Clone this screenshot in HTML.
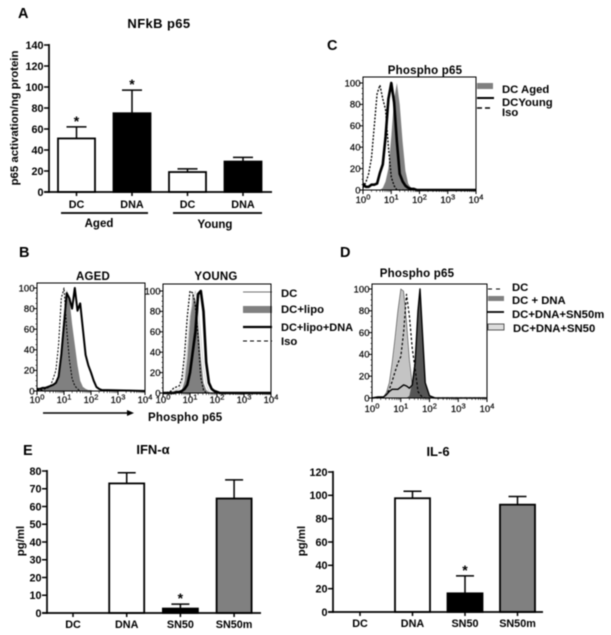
<!DOCTYPE html>
<html lang="en">
<head>
<meta charset="utf-8">
<title>NFkB p65 figure</title>
<style>
html,body{margin:0;padding:0;background:#fff;width:611px;height:635px;overflow:hidden}
svg{display:block;filter:blur(.5px)}
text{font-family:"Liberation Sans",sans-serif;font-weight:bold;fill:#000}
.letter{font-size:14.5px}
.title{font-size:13px}
.ftitle{font-size:11.5px;letter-spacing:.2px}
.leg{font-size:11.3px}
.tick{font-size:10.8px}
.ytitle{font-size:11.4px}
.ftick{font-size:9.5px;font-weight:normal;stroke:#000;stroke-width:.2px}
.fexp{font-size:7.5px;font-weight:normal}
</style>
</head>
<body>
<svg id="figure" width="611" height="635" viewBox="0 0 611 635" xmlns="http://www.w3.org/2000/svg">
  <rect width="611" height="635" fill="#fff"/>

  <text class="letter" x="18" y="18">A</text>
  <text class="letter" x="19" y="257">B</text>
  <text class="letter" x="327" y="50">C</text>
  <text class="letter" x="340" y="257">D</text>
  <text class="letter" x="23" y="455">E</text>

  <text class="title" x="159" y="28" text-anchor="middle" letter-spacing=".4">NFkB p65</text>
  <text class="ytitle" transform="translate(18,118) rotate(-90)" text-anchor="middle">p65 activation/ng protein</text>
  <line x1="61" x2="148" y1="213" y2="213" stroke="#000" stroke-width="1.7"/>
  <line x1="173" x2="262" y1="213" y2="213" stroke="#000" stroke-width="1.7"/>
  <text class="title" style="font-size:11.5px" x="99" y="227" text-anchor="middle">Aged</text>
  <text class="title" style="font-size:11.5px" x="215" y="228" text-anchor="middle">Young</text>

  <text class="ftitle" x="425" y="74" text-anchor="middle">Phospho p65</text>
  <rect x="477" y="83" width="16" height="6" fill="#808080"/>
  <text class="leg" x="502" y="93">DC Aged</text>
  <line x1="477" x2="494" y1="98" y2="98" stroke="#000" stroke-width="2"/>
  <text class="leg" x="502" y="106">DCYoung</text>
  <line x1="477" x2="490" y1="108" y2="108" stroke="#000" stroke-width="1.5" stroke-dasharray="5 3"/>
  <text class="leg" x="502" y="116">Iso</text>

  <text class="ftitle" x="93" y="280" text-anchor="middle">AGED</text>
  <text class="ftitle" x="216" y="280" text-anchor="middle">YOUNG</text>
  <line x1="243" x2="272" y1="292" y2="292" stroke="#444" stroke-width=".8"/>
  <text class="leg" x="281" y="297">DC</text>
  <rect x="243" y="306" width="29" height="7" fill="#808080"/>
  <text class="leg" x="281" y="313">DC+lipo</text>
  <line x1="243" x2="272" y1="327" y2="327" stroke="#000" stroke-width="2.2"/>
  <text class="leg" x="281" y="331" style="font-size:11px">DC+lipo+DNA</text>
  <line x1="243" x2="272" y1="341" y2="341" stroke="#000" stroke-width="1" stroke-dasharray="4 3"/>
  <text class="leg" x="281" y="345">Iso</text>
  <line x1="43" x2="128" y1="413" y2="413" stroke="#000" stroke-width="1.6"/>
  <path d="M134 413L127 410V416Z" fill="#000"/>
  <text class="ftitle" x="148" y="421">Phospho p65</text>

  <text class="ftitle" x="417" y="277" text-anchor="middle">Phospho p65</text>
  <line x1="488" x2="501" y1="289" y2="289" stroke="#000" stroke-width="1" stroke-dasharray="4 4"/>
  <text class="leg" x="512" y="291">DC</text>
  <rect x="488" y="296" width="16" height="5" fill="#808080"/>
  <text class="leg" x="512" y="304">DC + DNA</text>
  <line x1="487" x2="504" y1="312" y2="312" stroke="#000" stroke-width="1.8"/>
  <text class="leg" x="512" y="318">DC+DNA+SN50m</text>
  <rect x="488" y="324" width="16" height="6" fill="#ddd" stroke="#333" stroke-width=".8"/>
  <text class="leg" x="513" y="332">DC+DNA+SN50</text>

  <text class="title" x="153" y="454" text-anchor="middle">IFN-α</text>
  <text class="ytitle" transform="translate(24,541) rotate(-90)" text-anchor="middle">pg/ml</text>
  <text class="title" x="438" y="456" text-anchor="middle">IL-6</text>
  <text class="ytitle" transform="translate(305,541) rotate(-90)" text-anchor="middle">pg/ml</text>
</svg>

<script>
/* ---------- bar chart data ---------- */
const aCategories = ['DC', 'DNA', 'DC', 'DNA'];
const aValues = [51, 75, 19, 29];
const aErrorTops = [62, 97, 22, 33];
const aStars = [1, 1, 0, 0];
const aTicks = [0, 20, 40, 60, 80, 100, 120, 140];

const ifnCategories = ['DC', 'DNA', 'SN50', 'SN50m'];
const ifnValues = [0, 73, 2.5, 64.5];
const ifnErrorTops = [0, 79, 5, 75];
const ifnStars = [0, 0, 1, 0];
const ifnTicks = [0, 10, 20, 30, 40, 50, 60, 70, 80];

const il6Categories = ['DC', 'DNA', 'SN50', 'SN50m'];
const il6Values = [0, 97.5, 16, 92];
const il6ErrorTops = [0, 103.5, 31, 99];
const il6Stars = [0, 0, 1, 0];
const il6Ticks = [0, 20, 40, 60, 80, 100, 120];

/* ---------- flow histogram data (log10 fluorescence, % of max) ---------- */
const flowYTicks = [0, 20, 40, 60, 80, 100];
const flowYMinorTicks = [5, 10, 15, 25, 30, 35, 45, 50, 55, 65, 70, 75, 85, 90, 95];
const flowXExponents = [0, 1, 2, 3, 4];

const cDecades = [0, .1, .2, .3, .4, .5, .6, .7, .8, .9, 1, 1.1, 1.2, 1.3, 1.4, 1.5, 1.6, 1.7, 1.8, 1.9, 2, 4];
const cAged = [0, 0, 0, 0, 0, 0, 0, 2, 8, 20, 50, 85, 100, 80, 45, 18, 6, 2, 0, 0, 0, 0];
const cYoung = [6, 3, 3, 5, 5, 6, 16, 24, 50, 85, 100, 82, 45, 15, 8, 4, 2, 1, 1, 0, 0, 0];
const cIso = [2, 7, 15, 30, 60, 90, 98, 85, 75, 40, 12, 4, 0, 0, 0, 0, 0, 0, 0, 0, 0, 0];

const bDecades = [0, .1, .2, .3, .4, .5, .6, .7, .8, .9, 1, 1.1, 1.2, 1.3, 1.4, 1.5, 1.6, 1.7, 1.8, 1.9, 2, 2.1, 2.2, 2.3, 2.4, 4];
const bAgedLipo = [2, 2, 3, 3, 4, 5, 6, 8, 15, 45, 75, 98, 90, 65, 45, 25, 10, 4, 2, 1, 1, 0, 0, 0, 0, 0];
const bAgedLipoDna = [2, 2, 3, 3, 4, 5, 6, 8, 14, 35, 65, 95, 90, 80, 100, 78, 85, 60, 35, 25, 18, 10, 4, 2, 1, 0];
const bAgedIso = [1, 1, 1, 2, 3, 5, 12, 20, 45, 90, 100, 60, 30, 12, 5, 2, 0, 0, 0, 0, 0, 0, 0, 0, 0, 0];
const bYoungLipo = [0, 0, 0, 0, 0, 0, 1, 3, 12, 35, 70, 98, 92, 70, 35, 10, 3, 1, 0, 0, 0, 0, 0, 0, 0, 0];
const bYoungDc = [0, 0, 0, 1, 2, 3, 4, 8, 20, 45, 75, 90, 100, 85, 55, 25, 8, 2, 0, 0, 0, 0, 0, 0, 0, 0];
const bYoungLipoDna = [0, 0, 0, 0, 0, 1, 1, 2, 4, 8, 20, 40, 60, 97, 100, 80, 30, 10, 4, 2, 1, 0, 0, 0, 0, 0];
const bYoungIso = [0, 0, 1, 2, 5, 6, 7, 14, 38, 75, 100, 98, 85, 55, 15, 3, 0, 0, 0, 0, 0, 0, 0, 0, 0, 0];

const dDecades = [0, .2, .4, .5, .6, .7, .8, .9, 1, 1.1, 1.2, 1.3, 1.4, 1.5, 1.6, 1.67, 1.75, 1.85, 2, 2.2, 4];
const dSn50 = [0, 0, 1, 5, 14, 32, 55, 80, 100, 98, 70, 35, 12, 6, 10, 13, 10, 3, 1, 0, 0];
const dDna = [0, 0, 0, 0, 0, 0, 0, 0, 0, 0, 0, 2, 15, 38, 82, 100, 65, 15, 1, 0, 0];
const dSn50m = [0, 1, 1, 3, 6, 8, 8, 8, 10, 12, 11, 9, 12, 32, 80, 100, 62, 14, 2, 0, 0];
const dDc = [0, 0, 1, 3, 8, 15, 24, 32, 38, 60, 95, 75, 45, 27, 6, 3, 1, 0, 0, 0, 0];

/* ---------- drawing ---------- */
const svg = document.getElementById('figure');
const NS = 'http://www.w3.org/2000/svg';

function mk(tag, attrs, parent) {
  const e = document.createElementNS(NS, tag);
  for (const k in attrs) e.setAttribute(k, attrs[k]);
  (parent || svg).appendChild(e);
  return e;
}

function drawBars(c) {
  const g = mk('g', {});
  
  
  const maxV = c.ticks[c.ticks.length - 1];
  const y = v => c.y0 - v / maxV * (c.y0 - c.yTop);
  const x = i => c.xFirst + i * c.step;

  c.values.forEach((v, i) => {
    if (v <= 0) return;
    const cx = x(i);
    const top = y(c.errorTops[i]);
    const stem = mk('line', {x1: cx, x2: cx, y1: y(v), y2: top, stroke: '#000', 'stroke-width': 1.5}, g);
    
    
    const cap = mk('line', {x1: cx - c.cap, x2: cx + c.cap, y1: top, y2: top, stroke: '#000', 'stroke-width': 1.5}, g);
    
    
    const bar = mk('rect', {x: cx - c.width / 2, y: y(v), width: c.width, height: c.y0 - y(v), fill: c.fills[i], stroke: '#000', 'stroke-width': 1.8}, g);
    
    
    if (c.stars[i]) {
      const s = mk('text', {x: cx, y: top - 1, 'text-anchor': 'middle', style: 'font-size:14px'}, g);
      s.textContent = '*';
      
      
    }
  });

  const yAxis = mk('line', {x1: c.x0, x2: c.x0, y1: c.yTop - 1, y2: c.y0 + 1, stroke: '#000', 'stroke-width': 1.7}, g);
  
  
  const xAxis = mk('line', {x1: c.x0 - 5, x2: c.xEnd, y1: c.y0, y2: c.y0, stroke: '#000', 'stroke-width': 1.7}, g);
  
  

  c.ticks.forEach(t => {
    const tk = mk('line', {x1: c.x0 - 5, x2: c.x0, y1: y(t), y2: y(t), stroke: '#000', 'stroke-width': 1.5}, g);
    
    
    const lb = mk('text', {x: c.x0 - 5.5, y: y(t) + 3.8, 'text-anchor': 'end', class: 'tick'}, g);
    lb.textContent = t;
    
    
  });
  c.categories.forEach((name, i) => {
    const tk = mk('line', {x1: x(i), x2: x(i), y1: c.y0, y2: c.y0 + 4, stroke: '#000', 'stroke-width': 1.5}, g);
    
    
    const lb = mk('text', {x: x(i), y: c.labelY, 'text-anchor': 'middle', class: 'tick'}, g);
    lb.textContent = name;
    
    
  });
}

function drawHist(c) {
  const g = mk('g', {});
  
  
  const dec = (c.x1 - c.x0) / 4;
  const x = d => c.x0 + d * dec;
  const y = v => c.y0 - v / 100 * (c.y0 - c.y100);

  c.series.forEach(s => {
    const pts = c.decades.map((d, i) => x(d).toFixed(1) + ',' + y(s.values[i]).toFixed(1)).join(' ');
    if (s.fill) {
      const area = mk('polygon', {points: x(0) + ',' + c.y0 + ' ' + pts + ' ' + c.x1 + ',' + c.y0, fill: s.fill, stroke: s.edge || 'none', 'stroke-width': .6}, g);
      
      
    } else {
      const line = mk('polyline', {points: pts, fill: 'none', stroke: s.stroke, 'stroke-width': s.width, 'stroke-dasharray': s.dash || 'none', 'stroke-linejoin': 'round'}, g);
      
      
    }
  });

  const frame = mk('rect', {x: c.x0, y: c.yTop, width: c.x1 - c.x0, height: c.y0 - c.yTop, fill: 'none', stroke: '#000', 'stroke-width': 1}, g);
  
  

  flowYMinorTicks.forEach(t => {
    const mt = mk('line', {x1: c.x0 - 1.5, x2: c.x0, y1: y(t), y2: y(t), stroke: '#000', 'stroke-width': .6}, g);
    
    
  });
  flowYTicks.forEach(t => {
    const tk = mk('line', {x1: c.x0 - 3, x2: c.x0, y1: y(t), y2: y(t), stroke: '#000', 'stroke-width': 1}, g);
    
    
    const lb = mk('text', {x: c.x0 - 2.5, y: y(t) + 3.3, 'text-anchor': 'end', class: 'ftick'}, g);
    lb.textContent = t;
    
    
  });
  flowXExponents.forEach(e => {
    const tk = mk('line', {x1: x(e), x2: x(e), y1: c.y0, y2: c.y0 + 4, stroke: '#000', 'stroke-width': 1}, g);
    
    
    const lb = mk('text', {x: x(e), y: c.labelY, 'text-anchor': 'middle', class: 'ftick'}, g);
    
    
    const base = mk('tspan', {}, lb);
    base.textContent = '10';
    const sup = mk('tspan', {dy: -3.5, class: 'fexp'}, lb);
    sup.textContent = e;
    if (e < 4) {
      [2, 3, 4, 5, 6, 7, 8, 9].forEach(m => {
        const px = x(e + Math.log10(m));
        const mt = mk('line', {x1: px, x2: px, y1: c.y0, y2: c.y0 + 2, stroke: '#000', 'stroke-width': .6}, g);
        
        
      });
    }
  });
}

drawBars({id: 'a', categories: aCategories, values: aValues, errorTops: aErrorTops, stars: aStars, ticks: aTicks,
  fills: ['#fff', '#000', '#fff', '#000'], x0: 49, xEnd: 272, y0: 192, yTop: 45, xFirst: 76.5, step: 55.5, width: 37, cap: 10, labelY: 208});
drawBars({id: 'ifn', categories: ifnCategories, values: ifnValues, errorTops: ifnErrorTops, stars: ifnStars, ticks: ifnTicks,
  fills: ['#fff', '#fff', '#000', '#808080'], x0: 47, xEnd: 261, y0: 613, yTop: 471, xFirst: 73, step: 53.7, width: 35, cap: 9, labelY: 628});
drawBars({id: 'il6', categories: il6Categories, values: il6Values, errorTops: il6ErrorTops, stars: il6Stars, ticks: il6Ticks,
  fills: ['#fff', '#fff', '#000', '#808080'], x0: 333, xEnd: 543, y0: 612, yTop: 472, xFirst: 360, step: 52.5, width: 35, cap: 9, labelY: 627});

drawHist({id: 'c', decades: cDecades, x0: 363, x1: 476, y0: 190, y100: 83, yTop: 77, labelY: 203, series: [
  {name: 'dc-aged', values: cAged, fill: '#808080'},
  {name: 'iso', values: cIso, stroke: '#000', width: 1.3, dash: '2 1.5'},
  {name: 'dc-young', values: cYoung, stroke: '#000', width: 2.6}
]});
drawHist({id: 'b-aged', decades: bDecades, x0: 37, x1: 145, y0: 391, y100: 288, yTop: 283, labelY: 403, series: [
  {name: 'dc-lipo', values: bAgedLipo, fill: '#808080'},
  {name: 'iso', values: bAgedIso, stroke: '#000', width: 1, dash: '2 1.5'},
  {name: 'dc-lipo-dna', values: bAgedLipoDna, stroke: '#000', width: 2}
]});
drawHist({id: 'b-young', decades: bDecades, x0: 163, x1: 271, y0: 393, y100: 291, yTop: 284, labelY: 403, series: [
  {name: 'dc-lipo', values: bYoungLipo, fill: '#808080'},
  {name: 'dc', values: bYoungDc, stroke: '#ccc', width: .8},
  {name: 'iso', values: bYoungIso, stroke: '#000', width: 1.2, dash: '2 1.5'},
  {name: 'dc-lipo-dna', values: bYoungLipoDna, stroke: '#000', width: 2.6}
]});
drawHist({id: 'd', decades: dDecades, x0: 372, x1: 487, y0: 398, y100: 289, yTop: 284, labelY: 412, series: [
  {name: 'dc-dna-sn50', values: dSn50, fill: '#c4c4c4', edge: '#444'},
  {name: 'dc-dna', values: dDna, fill: '#555'},
  {name: 'dc', values: dDc, stroke: '#000', width: 1.2, dash: '2.5 2'},
  {name: 'dc-dna-sn50m', values: dSn50m, stroke: '#000', width: 1.4}
]});
</script>
</body>
</html>
